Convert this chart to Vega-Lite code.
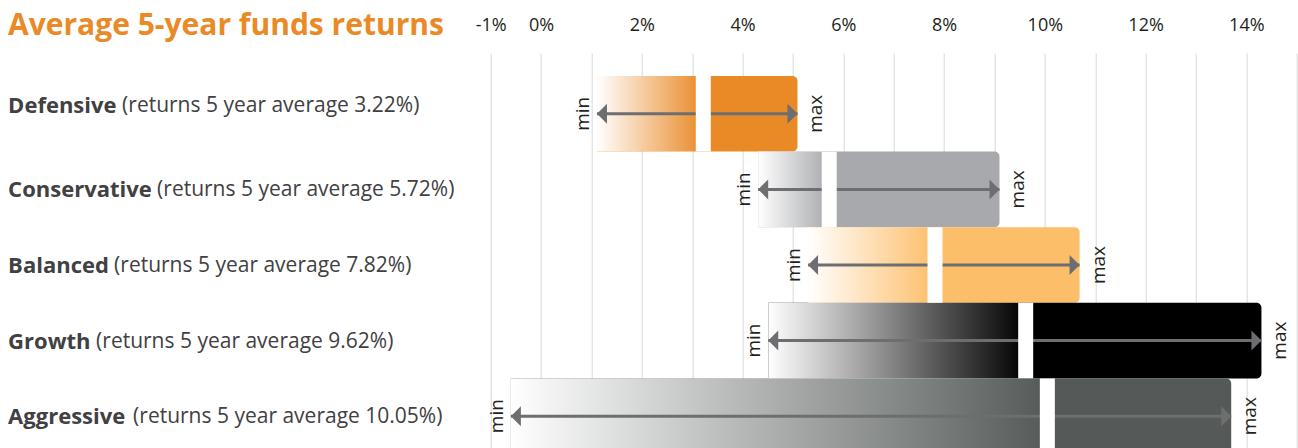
{
  "$schema": "https://vega.github.io/schema/vega-lite/v6.json",
  "width": 806,
  "height": 395,
  "autosize": "none",
  "padding": {"left": 490.7, "top": 53, "right": 1.3, "bottom": 0},
  "background": "white",
  "title": {
    "text": "Average 5-year funds returns",
    "anchor": "start",
    "frame": "group",
    "dx": -482.7,
    "dy": 29,
    "fontSize": 30,
    "font": "Open Sans",
    "fontWeight": "bold",
    "color": "#E98A27"
  },
  "config": {"view": {"stroke": null}, "font": "Open Sans"},
  "data": {
    "values": [
      {"fund": "Defensive", "detail": "(returns 5 year average 3.22%)", "min": 1.11, "max": 5.09, "avg": 3.22},
      {"fund": "Conservative", "detail": "(returns 5 year average 5.72%)", "min": 4.31, "max": 9.10, "avg": 5.72},
      {"fund": "Balanced", "detail": "(returns 5 year average 7.82%)", "min": 5.30, "max": 10.69, "avg": 7.82},
      {"fund": "Growth", "detail": "(returns 5 year average 9.62%)", "min": 4.51, "max": 14.30, "avg": 9.62},
      {"fund": "Aggressive", "detail": "(returns 5 year average 10.05%)", "min": -0.60, "max": 13.70, "avg": 10.05}
    ]
  },
  "encoding": {
    "y": {
      "field": "fund",
      "type": "nominal",
      "sort": null,
      "scale": {"range": [0, 424], "paddingInner": 0, "paddingOuter": 0.3046},
      "axis": null
    }
  },
  "layer": [
    {
      "mark": {"type": "bar", "cornerRadiusTopRight": 5, "cornerRadiusBottomRight": 5},
      "encoding": {
        "x": {
          "field": "min",
          "type": "quantitative",
          "title": null,
          "scale": {"domain": [-1, 15], "nice": false, "zero": false},
          "axis": {
            "orient": "top",
            "values": [-1, 0, 1, 2, 3, 4, 5, 6, 7, 8, 9, 10, 11, 12, 13, 14, 15],
            "labelExpr": "datum.value == 15 || (datum.value > 0 && datum.value % 2 == 1) ? '' : datum.value + '%'",
            "grid": true,
            "gridColor": "#d9d9d9",
            "gridWidth": 1,
            "ticks": false,
            "domain": false,
            "labelFontSize": 18,
            "labelFont": "Open Sans",
            "labelColor": "#231f20",
            "labelPadding": 19,
            "labelFlush": false,
            "labelOverlap": false,
            "title": null
          }
        },
        "x2": {"field": "max"},
        "color": {
          "field": "fund",
          "type": "nominal",
          "scale": {
            "domain": ["Defensive", "Conservative", "Balanced", "Growth", "Aggressive"],
            "range": ["#E98A27", "#A7A9AC", "#FDBE6A", "#000000", "#555A59"]
          },
          "legend": null
        }
      }
    },
    {
      "mark": {
        "type": "bar",
        "fill": {
          "gradient": "linear",
          "x1": 0, "y1": 0, "x2": 1, "y2": 0,
          "stops": [
            {"offset": 0, "color": "rgba(255,255,255,1)"},
            {"offset": 1, "color": "rgba(255,255,255,0)"}
          ]
        }
      },
      "encoding": {
        "x": {"field": "min", "type": "quantitative", "title": null},
        "x2": {"field": "avg"}
      }
    },
    {
      "mark": {"type": "rule", "color": "#6d6e71", "strokeWidth": 3},
      "encoding": {
        "x": {"field": "min", "type": "quantitative", "title": null},
        "x2": {"field": "max"}
      }
    },
    {
      "mark": {"type": "point", "shape": "M0,0L1,-1L1,1Z", "filled": true, "size": 400, "color": "#6d6e71", "opacity": 1},
      "encoding": {"x": {"field": "min", "type": "quantitative", "title": null}}
    },
    {
      "mark": {"type": "point", "shape": "M0,0L-1,-1L-1,1Z", "filled": true, "size": 400, "color": "#6d6e71", "opacity": 1},
      "encoding": {"x": {"field": "max", "type": "quantitative", "title": null}}
    },
    {
      "mark": {"type": "tick", "orient": "vertical", "thickness": 15, "size": 75.5, "color": "#ffffff", "opacity": 1},
      "encoding": {"x": {"field": "avg", "type": "quantitative", "title": null}}
    },
    {
      "mark": {"type": "text", "text": "min", "angle": 270, "dy": -14, "fontSize": 19, "font": "Open Sans", "color": "#231f20", "align": "center", "baseline": "middle"},
      "encoding": {"x": {"field": "min", "type": "quantitative", "title": null}}
    },
    {
      "mark": {"type": "text", "text": "max", "angle": 270, "dy": 19, "fontSize": 19, "font": "Open Sans", "color": "#231f20", "align": "center", "baseline": "middle"},
      "encoding": {"x": {"field": "max", "type": "quantitative", "title": null}}
    },
    {
      "mark": {
        "type": "text", "align": "left", "baseline": "middle", "fontSize": 22, "font": "Open Sans", "fontWeight": "bold", "color": "#414042",
        "dy": {"expr": "datum.fund == 'Defensive' ? -8 : 1"}
      },
      "encoding": {
        "x": {"datum": -10.58, "type": "quantitative"},
        "text": {"field": "fund"}
      }
    },
    {
      "mark": {
        "type": "text", "align": "left", "baseline": "middle", "fontSize": 21, "font": "Open Sans", "color": "#414042",
        "dx": {"expr": "({'Defensive': 114, 'Conservative': 149, 'Balanced': 106, 'Growth': 88, 'Aggressive': 125})[datum.fund]"},
        "dy": {"expr": "datum.fund == 'Defensive' ? -8 : 1"}
      },
      "encoding": {
        "x": {"datum": -10.58, "type": "quantitative"},
        "text": {"field": "detail"}
      }
    }
  ]
}
